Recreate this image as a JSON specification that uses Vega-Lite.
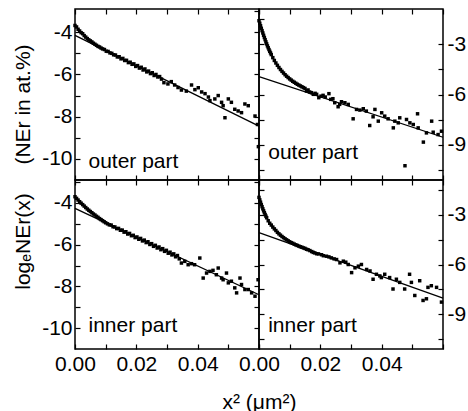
{
  "$schema": "https://vega.github.io/schema/vega-lite/v6.json",
  "padding": {"left": 11, "top": 7, "right": 2, "bottom": 0},
  "config": {
    "view": {"stroke": "black", "strokeWidth": 1.5},
    "font": "Liberation Sans",
    "axis": {"domain": false, "grid": false, "tickColor": "black", "tickSize": -5, "tickWidth": 1.2, "labelFont": "Liberation Sans", "labelFontSize": 21, "labelColor": "black", "titleFont": "Liberation Sans", "titleFontSize": 21, "titleFontWeight": "normal", "titleColor": "black", "labelOverlap": false, "labelFlush": false, "labelBound": false, "minExtent": 0}
  },
  "datasets": {
    "pts": [
      {"p":"TL","x":0.0000,"y":-3.68},{"p":"TL","x":0.0005,"y":-3.75},{"p":"TL","x":0.0010,"y":-3.86},{"p":"TL","x":0.0015,"y":-3.94},{"p":"TL","x":0.0020,"y":-4.02},{"p":"TL","x":0.0025,"y":-4.07},{"p":"TL","x":0.0030,"y":-4.16},{"p":"TL","x":0.0035,"y":-4.23},{"p":"TL","x":0.0040,"y":-4.30},{"p":"TL","x":0.0045,"y":-4.36},{"p":"TL","x":0.0050,"y":-4.41},{"p":"TL","x":0.0055,"y":-4.46},{"p":"TL","x":0.0060,"y":-4.52},{"p":"TL","x":0.0065,"y":-4.57},{"p":"TL","x":0.0070,"y":-4.62},{"p":"TL","x":0.0075,"y":-4.67},{"p":"TL","x":0.0080,"y":-4.70},{"p":"TL","x":0.0085,"y":-4.75},{"p":"TL","x":0.0090,"y":-4.79},
      {"p":"TL","x":0.0096,"y":-4.82},{"p":"TL","x":0.0102,"y":-4.90},{"p":"TL","x":0.0108,"y":-4.91},{"p":"TL","x":0.0114,"y":-4.98},{"p":"TL","x":0.0120,"y":-5.00},{"p":"TL","x":0.0126,"y":-5.07},{"p":"TL","x":0.0132,"y":-5.08},{"p":"TL","x":0.0138,"y":-5.17},{"p":"TL","x":0.0144,"y":-5.16},{"p":"TL","x":0.0150,"y":-5.26},{"p":"TL","x":0.0156,"y":-5.24},{"p":"TL","x":0.0162,"y":-5.34},{"p":"TL","x":0.0168,"y":-5.33},{"p":"TL","x":0.0174,"y":-5.44},{"p":"TL","x":0.0180,"y":-5.42},{"p":"TL","x":0.0186,"y":-5.52},{"p":"TL","x":0.0192,"y":-5.50},{"p":"TL","x":0.0198,"y":-5.62},{"p":"TL","x":0.0204,"y":-5.58},{"p":"TL","x":0.0210,"y":-5.70},{"p":"TL","x":0.0216,"y":-5.66},{"p":"TL","x":0.0222,"y":-5.79},{"p":"TL","x":0.0228,"y":-5.74},{"p":"TL","x":0.0234,"y":-5.88},{"p":"TL","x":0.0240,"y":-5.84},{"p":"TL","x":0.0246,"y":-5.96},{"p":"TL","x":0.0252,"y":-5.92},{"p":"TL","x":0.0258,"y":-6.05},{"p":"TL","x":0.0264,"y":-6.00},{"p":"TL","x":0.0270,"y":-6.12},{"p":"TL","x":0.0276,"y":-6.10},{"p":"TL","x":0.0282,"y":-6.22},
      {"p":"TL","x":0.0290,"y":-6.39},{"p":"TL","x":0.0303,"y":-6.45},{"p":"TL","x":0.0314,"y":-6.34},{"p":"TL","x":0.0325,"y":-6.50},{"p":"TL","x":0.0336,"y":-6.62},{"p":"TL","x":0.0347,"y":-6.74},{"p":"TL","x":0.0363,"y":-6.79},{"p":"TL","x":0.0380,"y":-6.50},{"p":"TL","x":0.0391,"y":-6.72},{"p":"TL","x":0.0402,"y":-6.63},{"p":"TL","x":0.0413,"y":-6.83},{"p":"TL","x":0.0424,"y":-6.91},{"p":"TL","x":0.0435,"y":-7.07},{"p":"TL","x":0.0440,"y":-7.24},{"p":"TL","x":0.0456,"y":-7.16},{"p":"TL","x":0.0467,"y":-7.00},{"p":"TL","x":0.0478,"y":-7.32},{"p":"TL","x":0.0483,"y":-7.48},{"p":"TL","x":0.0489,"y":-8.05},{"p":"TL","x":0.0500,"y":-7.16},{"p":"TL","x":0.0510,"y":-7.32},{"p":"TL","x":0.0521,"y":-7.65},{"p":"TL","x":0.0532,"y":-7.73},{"p":"TL","x":0.0543,"y":-7.81},{"p":"TL","x":0.0554,"y":-7.40},{"p":"TL","x":0.0565,"y":-7.48},{"p":"TL","x":0.0587,"y":-7.97},{"p":"TL","x":0.0595,"y":-8.37},{"p":"TL","x":0.0598,"y":-9.42},

      {"p":"TR","x":0.0000,"y":-1.60},{"p":"TR","x":0.00025,"y":-1.75},{"p":"TR","x":0.0005,"y":-1.90},{"p":"TR","x":0.00075,"y":-2.05},{"p":"TR","x":0.0010,"y":-2.19},{"p":"TR","x":0.00125,"y":-2.33},{"p":"TR","x":0.0015,"y":-2.47},{"p":"TR","x":0.00175,"y":-2.60},{"p":"TR","x":0.0020,"y":-2.73},{"p":"TR","x":0.00225,"y":-2.86},{"p":"TR","x":0.0025,"y":-2.98},{"p":"TR","x":0.00275,"y":-3.10},{"p":"TR","x":0.0030,"y":-3.21},{"p":"TR","x":0.00325,"y":-3.32},{"p":"TR","x":0.0035,"y":-3.42},{"p":"TR","x":0.00375,"y":-3.52},{"p":"TR","x":0.0040,"y":-3.62},{"p":"TR","x":0.0045,"y":-3.80},{"p":"TR","x":0.0050,"y":-3.97},{"p":"TR","x":0.0055,"y":-4.12},{"p":"TR","x":0.0060,"y":-4.26},{"p":"TR","x":0.0065,"y":-4.39},{"p":"TR","x":0.0070,"y":-4.51},{"p":"TR","x":0.0075,"y":-4.62},{"p":"TR","x":0.0080,"y":-4.72},{"p":"TR","x":0.0085,"y":-4.82},{"p":"TR","x":0.0090,"y":-4.91},{"p":"TR","x":0.0095,"y":-4.99},{"p":"TR","x":0.0100,"y":-5.07},{"p":"TR","x":0.0105,"y":-5.14},{"p":"TR","x":0.0110,"y":-5.21},{"p":"TR","x":0.0115,"y":-5.27},{"p":"TR","x":0.0120,"y":-5.33},{"p":"TR","x":0.0125,"y":-5.39},{"p":"TR","x":0.0130,"y":-5.44},{"p":"TR","x":0.0135,"y":-5.49},{"p":"TR","x":0.0140,"y":-5.54},{"p":"TR","x":0.0145,"y":-5.59},{"p":"TR","x":0.0150,"y":-5.64},
      {"p":"TR","x":0.0155,"y":-5.79},{"p":"TR","x":0.0160,"y":-5.73},{"p":"TR","x":0.0165,"y":-5.85},{"p":"TR","x":0.0171,"y":-5.89},{"p":"TR","x":0.0177,"y":-5.99},{"p":"TR","x":0.0183,"y":-5.93},{"p":"TR","x":0.0188,"y":-5.99},{"p":"TR","x":0.0195,"y":-6.19},{"p":"TR","x":0.0202,"y":-6.10},{"p":"TR","x":0.0209,"y":-6.05},{"p":"TR","x":0.0216,"y":-6.15},{"p":"TR","x":0.0228,"y":-5.95},{"p":"TR","x":0.0234,"y":-6.29},{"p":"TR","x":0.0241,"y":-6.25},{"p":"TR","x":0.0247,"y":-6.49},{"p":"TR","x":0.0258,"y":-6.73},{"p":"TR","x":0.0263,"y":-6.59},{"p":"TR","x":0.0269,"y":-6.43},{"p":"TR","x":0.0280,"y":-6.49},{"p":"TR","x":0.0291,"y":-6.59},{"p":"TR","x":0.0307,"y":-7.45},{"p":"TR","x":0.0318,"y":-6.89},{"p":"TR","x":0.0329,"y":-6.93},{"p":"TR","x":0.0340,"y":-6.85},{"p":"TR","x":0.0350,"y":-6.99},{"p":"TR","x":0.0361,"y":-7.85},{"p":"TR","x":0.0372,"y":-7.33},{"p":"TR","x":0.0378,"y":-6.89},{"p":"TR","x":0.0389,"y":-7.59},{"p":"TR","x":0.0400,"y":-7.09},{"p":"TR","x":0.0410,"y":-7.29},{"p":"TR","x":0.0421,"y":-7.45},{"p":"TR","x":0.0438,"y":-7.99},{"p":"TR","x":0.0443,"y":-7.59},{"p":"TR","x":0.0454,"y":-7.69},{"p":"TR","x":0.0459,"y":-7.39},{"p":"TR","x":0.0476,"y":-10.25},{"p":"TR","x":0.0481,"y":-7.49},{"p":"TR","x":0.0492,"y":-7.69},{"p":"TR","x":0.0503,"y":-7.79},{"p":"TR","x":0.0517,"y":-7.15},{"p":"TR","x":0.0519,"y":-7.99},{"p":"TR","x":0.0536,"y":-8.84},{"p":"TR","x":0.0546,"y":-8.29},{"p":"TR","x":0.0563,"y":-7.59},{"p":"TR","x":0.0568,"y":-8.25},{"p":"TR","x":0.0584,"y":-8.39},{"p":"TR","x":0.0595,"y":-8.19},

      {"p":"BL","x":0.0000,"y":-3.70},{"p":"BL","x":0.0005,"y":-3.78},{"p":"BL","x":0.0010,"y":-3.86},{"p":"BL","x":0.0015,"y":-3.94},{"p":"BL","x":0.0020,"y":-4.01},{"p":"BL","x":0.0025,"y":-4.08},{"p":"BL","x":0.0030,"y":-4.15},{"p":"BL","x":0.0035,"y":-4.22},{"p":"BL","x":0.0040,"y":-4.29},{"p":"BL","x":0.0045,"y":-4.35},{"p":"BL","x":0.0050,"y":-4.41},{"p":"BL","x":0.0055,"y":-4.47},{"p":"BL","x":0.0060,"y":-4.53},{"p":"BL","x":0.0065,"y":-4.58},{"p":"BL","x":0.0070,"y":-4.64},{"p":"BL","x":0.0075,"y":-4.69},{"p":"BL","x":0.0080,"y":-4.75},{"p":"BL","x":0.0085,"y":-4.80},{"p":"BL","x":0.0090,"y":-4.85},{"p":"BL","x":0.0095,"y":-4.90},{"p":"BL","x":0.0100,"y":-4.95},
      {"p":"BL","x":0.0106,"y":-5.00},{"p":"BL","x":0.0112,"y":-5.05},{"p":"BL","x":0.0118,"y":-5.06},{"p":"BL","x":0.0124,"y":-5.14},{"p":"BL","x":0.0130,"y":-5.15},{"p":"BL","x":0.0136,"y":-5.23},{"p":"BL","x":0.0142,"y":-5.22},{"p":"BL","x":0.0148,"y":-5.31},{"p":"BL","x":0.0154,"y":-5.30},{"p":"BL","x":0.0160,"y":-5.40},{"p":"BL","x":0.0166,"y":-5.38},{"p":"BL","x":0.0172,"y":-5.49},{"p":"BL","x":0.0178,"y":-5.46},{"p":"BL","x":0.0184,"y":-5.57},{"p":"BL","x":0.0190,"y":-5.55},{"p":"BL","x":0.0196,"y":-5.66},{"p":"BL","x":0.0202,"y":-5.63},{"p":"BL","x":0.0208,"y":-5.74},{"p":"BL","x":0.0214,"y":-5.70},{"p":"BL","x":0.0220,"y":-5.82},{"p":"BL","x":0.0226,"y":-5.78},{"p":"BL","x":0.0232,"y":-5.90},{"p":"BL","x":0.0238,"y":-5.86},{"p":"BL","x":0.0244,"y":-5.99},{"p":"BL","x":0.0250,"y":-5.95},{"p":"BL","x":0.0256,"y":-6.08},{"p":"BL","x":0.0262,"y":-6.03},{"p":"BL","x":0.0268,"y":-6.16},{"p":"BL","x":0.0274,"y":-6.11},{"p":"BL","x":0.0280,"y":-6.24},{"p":"BL","x":0.0286,"y":-6.19},{"p":"BL","x":0.0292,"y":-6.32},{"p":"BL","x":0.0298,"y":-6.27},{"p":"BL","x":0.0304,"y":-6.41},{"p":"BL","x":0.0310,"y":-6.36},{"p":"BL","x":0.0316,"y":-6.49},{"p":"BL","x":0.0322,"y":-6.44},{"p":"BL","x":0.0328,"y":-6.58},{"p":"BL","x":0.0334,"y":-6.52},{"p":"BL","x":0.0340,"y":-6.68},
      {"p":"BL","x":0.0347,"y":-6.88},{"p":"BL","x":0.0358,"y":-6.80},{"p":"BL","x":0.0369,"y":-6.96},{"p":"BL","x":0.0380,"y":-6.91},{"p":"BL","x":0.0390,"y":-6.96},{"p":"BL","x":0.0407,"y":-6.64},{"p":"BL","x":0.0418,"y":-7.60},{"p":"BL","x":0.0429,"y":-7.36},{"p":"BL","x":0.0440,"y":-7.28},{"p":"BL","x":0.0450,"y":-7.23},{"p":"BL","x":0.0461,"y":-7.44},{"p":"BL","x":0.0467,"y":-7.12},{"p":"BL","x":0.0478,"y":-7.60},{"p":"BL","x":0.0483,"y":-7.68},{"p":"BL","x":0.0494,"y":-7.36},{"p":"BL","x":0.0500,"y":-7.83},{"p":"BL","x":0.0510,"y":-7.75},{"p":"BL","x":0.0521,"y":-8.07},{"p":"BL","x":0.0527,"y":-8.31},{"p":"BL","x":0.0538,"y":-7.60},{"p":"BL","x":0.0543,"y":-7.91},{"p":"BL","x":0.0554,"y":-8.15},{"p":"BL","x":0.0565,"y":-8.15},{"p":"BL","x":0.0576,"y":-8.31},{"p":"BL","x":0.0587,"y":-8.47},{"p":"BL","x":0.0597,"y":-7.68},

      {"p":"BR","x":0.0000,"y":-1.95},{"p":"BR","x":0.00025,"y":-2.10},{"p":"BR","x":0.0005,"y":-2.24},{"p":"BR","x":0.00075,"y":-2.38},{"p":"BR","x":0.0010,"y":-2.51},{"p":"BR","x":0.00125,"y":-2.64},{"p":"BR","x":0.0015,"y":-2.76},{"p":"BR","x":0.00175,"y":-2.87},{"p":"BR","x":0.0020,"y":-2.98},{"p":"BR","x":0.00225,"y":-3.08},{"p":"BR","x":0.0025,"y":-3.18},{"p":"BR","x":0.0030,"y":-3.36},{"p":"BR","x":0.0035,"y":-3.51},{"p":"BR","x":0.0040,"y":-3.62},{"p":"BR","x":0.0045,"y":-3.74},{"p":"BR","x":0.0050,"y":-3.85},{"p":"BR","x":0.0055,"y":-3.95},{"p":"BR","x":0.0060,"y":-4.06},{"p":"BR","x":0.0065,"y":-4.15},{"p":"BR","x":0.0070,"y":-4.23},{"p":"BR","x":0.0075,"y":-4.31},{"p":"BR","x":0.0080,"y":-4.38},{"p":"BR","x":0.0085,"y":-4.45},{"p":"BR","x":0.0090,"y":-4.51},{"p":"BR","x":0.0095,"y":-4.57},{"p":"BR","x":0.0100,"y":-4.63},{"p":"BR","x":0.0105,"y":-4.68},{"p":"BR","x":0.0110,"y":-4.72},{"p":"BR","x":0.0115,"y":-4.77},{"p":"BR","x":0.0120,"y":-4.81},{"p":"BR","x":0.0125,"y":-4.85},{"p":"BR","x":0.0130,"y":-4.89},{"p":"BR","x":0.0135,"y":-4.93},{"p":"BR","x":0.0140,"y":-4.96},{"p":"BR","x":0.0145,"y":-5.00},{"p":"BR","x":0.0150,"y":-5.03},
      {"p":"BR","x":0.0155,"y":-5.08},{"p":"BR","x":0.0160,"y":-5.11},{"p":"BR","x":0.0166,"y":-5.16},{"p":"BR","x":0.0172,"y":-5.22},{"p":"BR","x":0.0177,"y":-5.27},{"p":"BR","x":0.0182,"y":-5.30},{"p":"BR","x":0.0188,"y":-5.35},{"p":"BR","x":0.0194,"y":-5.36},{"p":"BR","x":0.0204,"y":-5.41},{"p":"BR","x":0.0210,"y":-5.47},{"p":"BR","x":0.0220,"y":-5.50},{"p":"BR","x":0.0228,"y":-5.54},{"p":"BR","x":0.0236,"y":-5.60},{"p":"BR","x":0.0245,"y":-5.66},{"p":"BR","x":0.0253,"y":-5.70},{"p":"BR","x":0.0264,"y":-5.90},{"p":"BR","x":0.0275,"y":-5.80},{"p":"BR","x":0.0283,"y":-5.86},{"p":"BR","x":0.0291,"y":-6.00},{"p":"BR","x":0.0302,"y":-6.49},{"p":"BR","x":0.0313,"y":-6.20},{"p":"BR","x":0.0324,"y":-6.10},{"p":"BR","x":0.0334,"y":-6.00},{"p":"BR","x":0.0351,"y":-6.30},{"p":"BR","x":0.0362,"y":-6.39},{"p":"BR","x":0.0372,"y":-6.89},{"p":"BR","x":0.0383,"y":-6.59},{"p":"BR","x":0.0394,"y":-6.69},{"p":"BR","x":0.0399,"y":-6.79},{"p":"BR","x":0.0410,"y":-6.59},{"p":"BR","x":0.0426,"y":-6.79},{"p":"BR","x":0.0437,"y":-7.48},{"p":"BR","x":0.0448,"y":-6.89},{"p":"BR","x":0.0459,"y":-7.08},{"p":"BR","x":0.0475,"y":-7.48},{"p":"BR","x":0.0491,"y":-6.59},{"p":"BR","x":0.0497,"y":-7.08},{"p":"BR","x":0.0508,"y":-7.87},{"p":"BR","x":0.0524,"y":-6.98},{"p":"BR","x":0.0535,"y":-8.17},{"p":"BR","x":0.0546,"y":-8.07},{"p":"BR","x":0.0551,"y":-7.38},{"p":"BR","x":0.0562,"y":-7.28},{"p":"BR","x":0.0579,"y":-7.38},{"p":"BR","x":0.0595,"y":-8.27}
    ],
    "fit": [
      {"p":"TL","x":0,"y":-4.15},{"p":"TL","x":0.06,"y":-8.45},
      {"p":"TR","x":0,"y":-4.93},{"p":"TR","x":0.06,"y":-8.55},
      {"p":"BL","x":0,"y":-4.26},{"p":"BL","x":0.06,"y":-8.40},
      {"p":"BR","x":0,"y":-4.08},{"p":"BR","x":0.06,"y":-8.03}
    ],
    "lab": [
      {"p":"TL","x":0.0044,"y":-10.45,"t":"outer part"},
      {"p":"TR","x":0.0030,"y":-9.85,"t":"outer part"},
      {"p":"BL","x":0.0044,"y":-10.2,"t":"inner part"},
      {"p":"BR","x":0.0030,"y":-10.05,"t":"inner part"}
    ]
  },
  "columns": 2,
  "spacing": 0,
  "bounds": "flush",
  "concat": [
    {
      "width": 184, "height": 171,
      "layer": [
        {"data": {"name": "pts"}, "transform": [{"filter": "datum.p == 'TL'"}],
         "mark": {"type": "point", "shape": "square", "filled": true, "size": 12, "color": "black", "opacity": 1},
         "encoding": {
           "x": {"field": "x", "type": "quantitative", "scale": {"domain": [0, 0.06], "nice": false, "zero": false}, "axis": {"orient": "bottom", "values": [0,0.01,0.02,0.03,0.04,0.05,0.06], "labels": false, "title": null}},
           "y": {"field": "y", "type": "quantitative", "scale": {"domain": [-11, -2.9], "nice": false, "zero": false}, "axis": {"orient": "left", "values": [-10,-9,-8,-7,-6,-5,-4], "labelExpr": "datum.value % 2 == 0 ? '' + datum.value : ''", "labelPadding": 8, "title": "(NEr in at.%)", "titleX": -42, "titleY": 95}}
         }},
        {"data": {"name": "fit"}, "transform": [{"filter": "datum.p == 'TL'"}],
         "mark": {"type": "line", "color": "black", "strokeWidth": 1.3},
         "encoding": {"x": {"field": "x", "type": "quantitative", "axis": null}, "y": {"field": "y", "type": "quantitative", "axis": null}}},
        {"data": {"name": "lab"}, "transform": [{"filter": "datum.p == 'TL'"}],
         "mark": {"type": "text", "align": "left", "baseline": "alphabetic", "fontSize": 21, "font": "Liberation Sans", "color": "black"},
         "encoding": {
           "x": {"field": "x", "type": "quantitative", "axis": {"orient": "top", "values": [0,0.01,0.02,0.03,0.04,0.05,0.06], "labels": false, "title": null}},
           "y": {"field": "y", "type": "quantitative", "axis": {"orient": "right", "values": [-10,-9,-8,-7,-6,-5,-4,-3], "labels": false, "title": null}},
           "text": {"field": "t"}}}
      ],
      "resolve": {"axis": {"x": "independent", "y": "independent"}}
    },
    {
      "width": 184, "height": 171,
      "layer": [
        {"data": {"name": "pts"}, "transform": [{"filter": "datum.p == 'TR'"}],
         "mark": {"type": "point", "shape": "square", "filled": true, "size": 12, "color": "black", "opacity": 1},
         "encoding": {
           "x": {"field": "x", "type": "quantitative", "scale": {"domain": [0, 0.06], "nice": false, "zero": false}, "axis": {"orient": "bottom", "values": [0,0.01,0.02,0.03,0.04,0.05,0.06], "labels": false, "title": null}},
           "y": {"field": "y", "type": "quantitative", "scale": {"domain": [-11.1, -0.9], "nice": false, "zero": false}, "axis": {"orient": "right", "values": [-10.5,-9,-7.5,-6,-4.5,-3], "labelExpr": "datum.value % 3 == 0 ? '' + datum.value : ''", "labelPadding": 9, "title": null}}
         }},
        {"data": {"name": "fit"}, "transform": [{"filter": "datum.p == 'TR'"}],
         "mark": {"type": "line", "color": "black", "strokeWidth": 1.3},
         "encoding": {"x": {"field": "x", "type": "quantitative", "axis": null}, "y": {"field": "y", "type": "quantitative", "axis": null}}},
        {"data": {"name": "lab"}, "transform": [{"filter": "datum.p == 'TR'"}],
         "mark": {"type": "text", "align": "left", "baseline": "alphabetic", "fontSize": 21, "font": "Liberation Sans", "color": "black"},
         "encoding": {
           "x": {"field": "x", "type": "quantitative", "axis": {"orient": "top", "values": [0,0.01,0.02,0.03,0.04,0.05,0.06], "labels": false, "title": null}},
           "y": {"field": "y", "type": "quantitative", "axis": {"orient": "left", "values": [-10.5,-9,-7.5,-6,-4.5,-3,-1.5], "labels": false, "title": null}},
           "text": {"field": "t"}}}
      ],
      "resolve": {"axis": {"x": "independent", "y": "independent"}}
    },
    {
      "width": 184, "height": 169,
      "layer": [
        {"data": {"name": "pts"}, "transform": [{"filter": "datum.p == 'BL'"}],
         "mark": {"type": "point", "shape": "square", "filled": true, "size": 12, "color": "black", "opacity": 1},
         "encoding": {
           "x": {"field": "x", "type": "quantitative", "scale": {"domain": [0, 0.06], "nice": false, "zero": false}, "axis": {"orient": "bottom", "values": [0,0.01,0.02,0.03,0.04,0.05,0.06], "format": ".2f", "labelExpr": "indexof(['0.00','0.02','0.04'], datum.label) >= 0 ? datum.label : ''", "labelPadding": 9, "title": "x² (μm²)", "titleX": 184, "titleY": 59, "titleBaseline": "alphabetic"}},
           "y": {"field": "y", "type": "quantitative", "scale": {"domain": [-11, -2.9], "nice": false, "zero": false}, "axis": {"orient": "left", "values": [-10,-9,-8,-7,-6,-5,-4,-3], "labelExpr": "datum.value % 2 == 0 ? '' + datum.value : ''", "labelPadding": 8, "title": "logₑNEr(x)", "titleX": -42, "titleY": 61}}
         }},
        {"data": {"name": "fit"}, "transform": [{"filter": "datum.p == 'BL'"}],
         "mark": {"type": "line", "color": "black", "strokeWidth": 1.3},
         "encoding": {"x": {"field": "x", "type": "quantitative", "axis": null}, "y": {"field": "y", "type": "quantitative", "axis": null}}},
        {"data": {"name": "lab"}, "transform": [{"filter": "datum.p == 'BL'"}],
         "mark": {"type": "text", "align": "left", "baseline": "alphabetic", "fontSize": 21, "font": "Liberation Sans", "color": "black"},
         "encoding": {
           "x": {"field": "x", "type": "quantitative", "axis": {"orient": "top", "values": [0,0.01,0.02,0.03,0.04,0.05,0.06], "labels": false, "title": null}},
           "y": {"field": "y", "type": "quantitative", "axis": {"orient": "right", "values": [-10,-9,-8,-7,-6,-5,-4,-3], "labels": false, "title": null}},
           "text": {"field": "t"}}}
      ],
      "resolve": {"axis": {"x": "independent", "y": "independent"}}
    },
    {
      "width": 184, "height": 169,
      "layer": [
        {"data": {"name": "pts"}, "transform": [{"filter": "datum.p == 'BR'"}],
         "mark": {"type": "point", "shape": "square", "filled": true, "size": 12, "color": "black", "opacity": 1},
         "encoding": {
           "x": {"field": "x", "type": "quantitative", "scale": {"domain": [0, 0.06], "nice": false, "zero": false}, "axis": {"orient": "bottom", "values": [0,0.01,0.02,0.03,0.04,0.05,0.06], "format": ".2f", "labelExpr": "indexof(['0.00','0.02','0.04'], datum.label) >= 0 ? datum.label : ''", "labelPadding": 9, "title": null}},
           "y": {"field": "y", "type": "quantitative", "scale": {"domain": [-11.1, -0.9], "nice": false, "zero": false}, "axis": {"orient": "right", "values": [-10.5,-9,-7.5,-6,-4.5,-3,-1.5], "labelExpr": "datum.value % 3 == 0 ? '' + datum.value : ''", "labelPadding": 9, "title": null}}
         }},
        {"data": {"name": "fit"}, "transform": [{"filter": "datum.p == 'BR'"}],
         "mark": {"type": "line", "color": "black", "strokeWidth": 1.3},
         "encoding": {"x": {"field": "x", "type": "quantitative", "axis": null}, "y": {"field": "y", "type": "quantitative", "axis": null}}},
        {"data": {"name": "lab"}, "transform": [{"filter": "datum.p == 'BR'"}],
         "mark": {"type": "text", "align": "left", "baseline": "alphabetic", "fontSize": 21, "font": "Liberation Sans", "color": "black"},
         "encoding": {
           "x": {"field": "x", "type": "quantitative", "axis": {"orient": "top", "values": [0,0.01,0.02,0.03,0.04,0.05,0.06], "labels": false, "title": null}},
           "y": {"field": "y", "type": "quantitative", "axis": {"orient": "left", "values": [-10.5,-9,-7.5,-6,-4.5,-3,-1.5], "labels": false, "title": null}},
           "text": {"field": "t"}}}
      ],
      "resolve": {"axis": {"x": "independent", "y": "independent"}}
    }
  ]
}
